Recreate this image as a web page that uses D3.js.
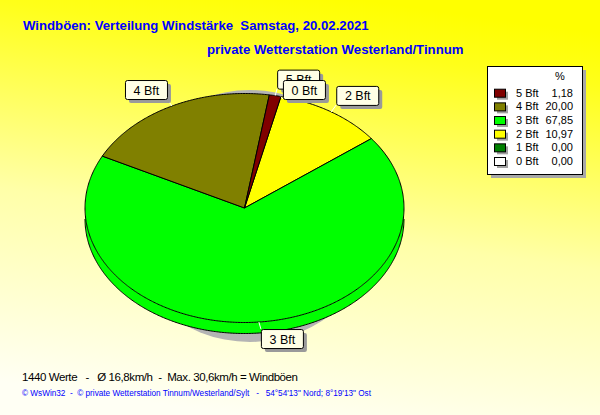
<!DOCTYPE html>
<html><head><meta charset="utf-8">
<script src="https://cdn.jsdelivr.net/npm/d3@7"></script>
<style>body{margin:0;padding:0;overflow:hidden}svg{display:block}text{white-space:pre}</style>
</head><body>
<script>
// ---- data ----
const categories = ["0 Bft","1 Bft","2 Bft","3 Bft","4 Bft","5 Bft"];
const percents   = [0.00, 0.00, 10.97, 67.85, 20.00, 1.18];
const percentLabels = ["0,00","0,00","10,97","67,85","20,00","1,18"];
const colors     = ["#ffffff","#008000","#ffff00","#00ff00","#808000","#800000"];
const legendOrder = [5,4,3,2,1,0];
const labelOrder  = [4,3,2,5,0];
const title1 = "Windböen: Verteilung Windstärke  Samstag, 20.02.2021";
const title2 = "private Wetterstation Westerland/Tinnum";
const infoLine = "1440 Werte   -   Ø 16,8km/h  -  Max. 30,6km/h = Windböen";
const footer = "© WsWin32  -  © private Wetterstation Tinnum/Westerland/Sylt   -   54°54'13\" Nord; 8°19'13\" Ost";

const W = 600, H = 415;
const svg = d3.select("body").append("svg").attr("width", W).attr("height", H);
const defs = svg.append("defs");
const g = defs.append("linearGradient").attr("id","bg").attr("x1","0.6").attr("y1","0").attr("x2","0.4").attr("y2","1");
g.append("stop").attr("offset","0").attr("stop-color","#ffff00");
g.append("stop").attr("offset","0.12").attr("stop-color","#ffff1a");
g.append("stop").attr("offset","0.55").attr("stop-color","#ffffa8");
g.append("stop").attr("offset","1").attr("stop-color","#fffff4");
svg.append("rect").attr("width",W).attr("height",H).attr("fill","url(#bg)");

const font = "Liberation Sans, Arial, sans-serif";
// titles
svg.append("text").attr("x",23).attr("y",30).text(title1)
  .attr("font-family",font).attr("font-weight","bold")
  .attr("font-size",13.2).attr("fill","#0000ff");
svg.append("text").attr("x",207).attr("y",54).text(title2)
  .attr("font-family",font).attr("font-weight","bold")
  .attr("font-size",13.2).attr("fill","#0000ff");

// ---- pie geometry ----
const cx = 244.5, cy = 208, rx = 159.5, ry = 114.5, depth = 11;
const startDeg = 13.2;
const pie = d3.pie().sort(null).value(d => d)
  .startAngle(startDeg*Math.PI/180).endAngle(startDeg*Math.PI/180 + 2*Math.PI);
const arcs = pie(percents);
const pt = (a, dy=0) => [cx + rx*Math.sin(a), cy - ry*Math.cos(a) + dy];
const line = d3.line();
function arcPts(a0, a1, dy=0) {
  const n = Math.max(2, Math.ceil(Math.abs(a1-a0)/0.01));
  return d3.range(n+1).map(i => pt(a0 + (a1-a0)*i/n, dy));
}

// shadow
svg.append("ellipse").attr("cx",250).attr("cy",216).attr("rx",130).attr("ry",126).attr("fill","#b4b4b4");

// sides (front half: PI/2 .. 3PI/2)
const front0 = Math.PI/2, front1 = 3*Math.PI/2;
arcs.forEach((d,i) => {
  for (const k of [0, 2*Math.PI]) {
    const lo = Math.max(d.startAngle - k, front0), hi = Math.min(d.endAngle - k, front1);
    if (hi > lo) {
      const pts = arcPts(lo, hi, 0).concat(arcPts(hi, lo, depth));
      svg.append("path").attr("d", line(pts) + "Z").attr("fill", colors[i]).attr("stroke","none");
      svg.append("path").attr("d", line(arcPts(lo, hi, depth))).attr("fill","none").attr("stroke","#000").attr("stroke-width",1);
    }
  }
});

// top faces
arcs.forEach((d,i) => {
  if (d.endAngle - d.startAngle <= 0) return;
  const pts = [[cx,cy]].concat(arcPts(d.startAngle, d.endAngle));
  svg.append("path").attr("d", line(pts) + "Z").attr("fill", colors[i])
    .attr("stroke","#000").attr("stroke-width",1).attr("stroke-linejoin","round");
});

// ---- labels ----
const bw = 42, bh = 19;
const placed = [];
labelOrder.forEach(i => {
  const d = arcs[i];
  const a = (d.startAngle + d.endAngle)/2;
  const p = pt(a);
  const s = Math.sin(a), c = Math.cos(a);
  let x, y;
  const nearTopBottom = Math.abs(s) < 0.25;
  if (nearTopBottom) { x = p[0] + 2; } else x = s > 0 ? p[0] + 5 : p[0] - 5 - bw;
  y = c > 0 ? p[1] - 7 - bh : p[1] + 7;
  for (const q of placed) {
    if (x < q.x + bw && x + bw > q.x && y < q.y + bh && y + bh > q.y) { y += 9.5; }
  }
  if (percents[i] > 0) placed.push({x, y});
  const cxn = nearTopBottom ? x : (s > 0 ? x : x + bw);
  const cyn = c > 0 ? y + bh : y;
  svg.append("line").attr("x1",p[0]).attr("y1",p[1]).attr("x2", cxn).attr("y2",cyn)
    .attr("stroke","#ffffff").attr("stroke-width",1);
  svg.append("rect").attr("x",x+4).attr("y",y+4).attr("width",bw).attr("height",bh).attr("rx",2).attr("fill","#9a9a9a");
  svg.append("rect").attr("x",x+0.5).attr("y",y+0.5).attr("width",bw).attr("height",bh).attr("rx",2)
    .attr("fill","#ffffe6").attr("stroke","#000");
  svg.append("text").attr("x",x+bw/2+0.5).attr("y",y+bh/2+5).attr("text-anchor","middle")
    .attr("font-family",font).attr("font-size",12.5).attr("fill","#000").text(categories[i]);
});

// ---- legend ----
const lx = 487, ly = 66, lw = 95, lh = 108;
svg.append("rect").attr("x",lx+4).attr("y",ly+4).attr("width",lw).attr("height",lh).attr("fill","#a8a8a8");
svg.append("rect").attr("x",lx+0.5).attr("y",ly+0.5).attr("width",lw).attr("height",lh).attr("fill","#fff").attr("stroke","#000");
svg.append("text").attr("x",560).attr("y",80).attr("text-anchor","middle").attr("font-family",font).attr("font-size",11).text("%");
const rowY = d3.scaleLinear().domain([0,5]).range([92.7, 161]);
legendOrder.forEach((i,k) => {
  const yy = rowY(k);
  svg.append("rect").attr("x",497).attr("y",yy-1).attr("width",11).attr("height",8).attr("fill","#a0a0a0");
  svg.append("rect").attr("x",494.5).attr("y",yy-3.5).attr("width",11).attr("height",8).attr("fill",colors[i]).attr("stroke","#000");
  svg.append("text").attr("x",516).attr("y",yy+4).attr("font-family",font).attr("font-size",11).text(categories[i]);
  svg.append("text").attr("x",573).attr("y",yy+4).attr("text-anchor","end").attr("font-family",font).attr("font-size",11).text(percentLabels[i]);
});

// ---- bottom texts ----
svg.append("text").attr("x",22).attr("y",381).attr("font-family",font).attr("font-size",11.5).attr("fill","#000")
  .attr("textLength",276).attr("lengthAdjust","spacing").text(infoLine);
svg.append("text").attr("x",22).attr("y",396).attr("font-family",font).attr("font-size",8.5).attr("fill","#0000ff")
  .attr("textLength",349).attr("lengthAdjust","spacingAndGlyphs").text(footer);
</script>
</body></html>
